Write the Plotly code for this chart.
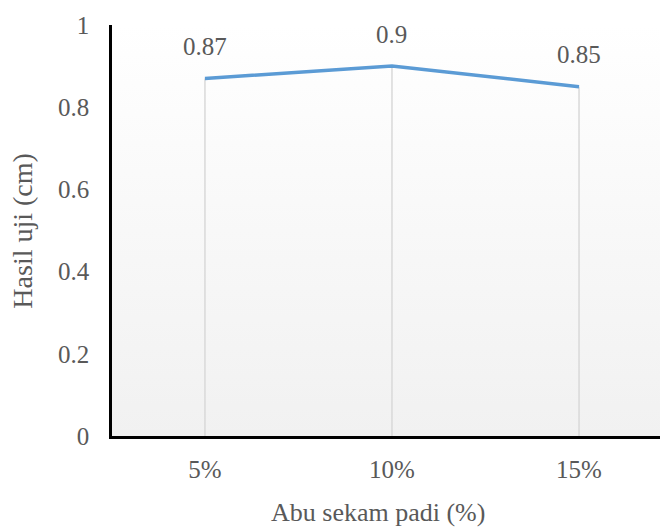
import plotly.graph_objects as go

categories = ["5%", "10%", "15%"]
values = [0.87, 0.9, 0.85]
y_ticks = [0, 0.2, 0.4, 0.6, 0.8, 1]
y_tick_text = ["0", "0.2", "0.4", "0.6", "0.8", "1"]

x_pos = list(range(len(categories)))
x_lo, x_hi = -0.497, 2.433

font_family = "Liberation Serif, Times New Roman, serif"
text_color = "#595959"
tick_size = 25

fig = go.Figure()

# plot-area background with a soft vertical gradient
fig.add_trace(go.Scatter(
    x=[x_lo, x_hi, x_hi, x_lo, x_lo],
    y=[0, 0, 1, 1, 0],
    mode="none",
    fill="toself",
    fillgradient=dict(type="vertical",
                      colorscale=[[0, "#f1f1f1"], [1, "#ffffff"]]),
    hoverinfo="skip",
    showlegend=False,
))

# drop lines from each point down to the axis
for xp, v in zip(x_pos, values):
    fig.add_trace(go.Scatter(
        x=[xp, xp], y=[0, v], mode="lines",
        line=dict(color="#d9d9d9", width=1.5),
        hoverinfo="skip", showlegend=False,
    ))

fig.add_trace(go.Scatter(
    x=x_pos, y=values, mode="lines",
    line=dict(color="#5b9bd5", width=3.5),
    showlegend=False,
))

# value labels above the points
for xp, v in zip(x_pos, values):
    fig.add_annotation(
        x=xp, y=v, text=f"{v:g}", showarrow=False, yshift=32,
        font=dict(family=font_family, size=tick_size, color=text_color),
    )

# axis titles
fig.add_annotation(
    x=0.485, xref="paper", y=-0.187, yref="paper", yanchor="middle",
    text="Abu sekam padi (%)", showarrow=False,
    font=dict(family=font_family, size=26, color=text_color),
)
fig.add_annotation(
    x=-0.164, xref="paper", y=0.5, yref="paper",
    xanchor="center", yanchor="middle", textangle=-90,
    text="Hasil uji (cm)", showarrow=False,
    font=dict(family=font_family, size=28, color=text_color),
)

fig.update_layout(
    width=660, height=528,
    margin=dict(l=112, r=0, t=25, b=92),
    paper_bgcolor="white", plot_bgcolor="rgba(0,0,0,0)",
    font=dict(family=font_family, color=text_color),
    xaxis=dict(
        range=[x_lo, x_hi], tickvals=x_pos, ticktext=categories,
        showgrid=False, zeroline=False, showline=True,
        linecolor="black", linewidth=2.5,
        ticks="", ticklabelstandoff=9,
        tickfont=dict(family=font_family, size=tick_size, color=text_color),
    ),
    yaxis=dict(
        range=[0, 1], tickvals=y_ticks, ticktext=y_tick_text,
        showgrid=False, zeroline=False, showline=True,
        linecolor="black", linewidth=2.5,
        ticks="", ticklabelstandoff=15,
        tickfont=dict(family=font_family, size=tick_size, color=text_color),
    ),
)

fig.write_html("out.html")
